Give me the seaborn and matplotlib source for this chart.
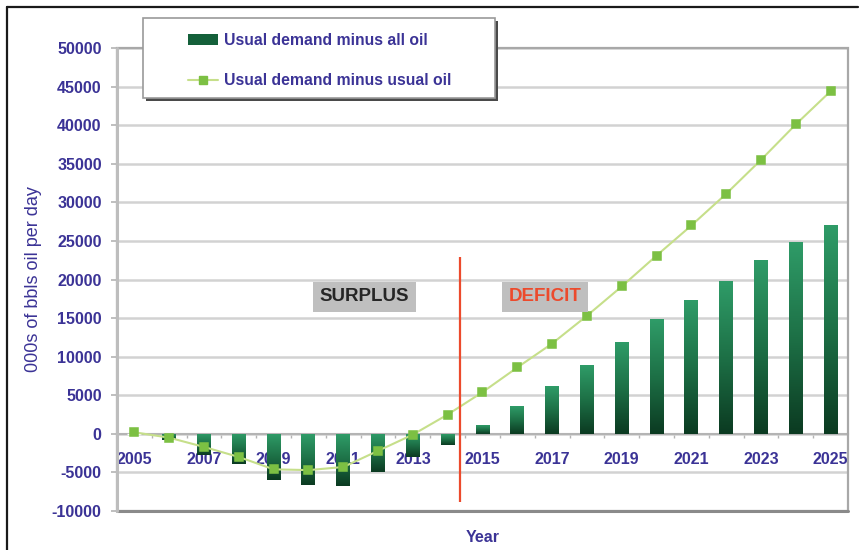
import numpy as np
import pandas as pd
import matplotlib
matplotlib.use("Agg")
import matplotlib.pyplot as plt
from matplotlib.colors import LinearSegmentedColormap
from matplotlib.patches import Rectangle
from matplotlib.lines import Line2D
import seaborn as sns

# --- data (thousands of barrels of oil per day) ---
years = [str(y) for y in range(2005, 2026)]
demand_minus_all_oil = [0, -800, -2800, -3900, -6000, -6600, -6700, -5000, -3000, -1400,
                        1100, 3600, 6200, 8900, 11900, 14900, 17300, 19800, 22500, 24900, 27100]
demand_minus_usual_oil = [200, -500, -1700, -3000, -4600, -4700, -4300, -2200, -100, 2500,
                          5400, 8600, 11700, 15300, 19100, 23100, 27000, 31100, 35500, 40100, 44400]
y_ticks = list(range(-10000, 50001, 5000))
series_labels = ["Usual demand minus all oil", "Usual demand minus usual oil"]
region_labels = ["SURPLUS", "DEFICIT"]
axis_labels = {"x": "Year", "y": "000s of bbls oil per day"}

df = pd.DataFrame({"year": years,
                   "all_oil": demand_minus_all_oil,
                   "usual_oil": demand_minus_usual_oil})

# --- styling ---
sns.set_theme(style="white")
plt.rcParams["font.family"] = ["Liberation Sans", "DejaVu Sans"]
TEXT_BLUE = "#3b3396"
GRID = "#d2d2d2"
BAR_TOP, BAR_BOTTOM = "#2f9c68", "#0b3a21"
LINE_GREEN, MARKER_GREEN = "#c6df8a", "#7cc043"

fig = plt.figure(figsize=(8.64, 5.5), dpi=100)
ax = fig.add_axes([117 / 864, 39 / 550, 731 / 864, 463 / 550])

sns.barplot(data=df, x="year", y="all_oil", color=BAR_TOP, width=0.4,
            ax=ax, zorder=3, saturation=1)
sns.pointplot(data=df, x="year", y="usual_oil", color=MARKER_GREEN, marker="s",
              markersize=5.5, linewidth=1.5, errorbar=None, ax=ax)

ax.set_ylim(y_ticks[0], y_ticks[-1])
ax.set_xlim(-0.5, len(years) - 0.5)

# vertical gradient inside each bar (light at the top, dark at the bottom)
cmap = LinearSegmentedColormap.from_list("bar", [BAR_TOP, "#1d7046", BAR_BOTTOM])
grad = np.linspace(0, 1, 256).reshape(-1, 1)
for p in list(ax.patches):
    x0, y0 = p.get_x(), p.get_y()
    w, h = p.get_width(), p.get_height()
    if h == 0:
        continue
    lo, hi = min(y0, y0 + h), max(y0, y0 + h)
    im = ax.imshow(grad, cmap=cmap, aspect="auto", origin="upper",
                   extent=(x0, x0 + w, lo, hi), zorder=3, interpolation="bicubic")
    im.set_clip_path(p)
    p.set_facecolor("none")
    p.set_edgecolor("none")

# line + markers of the second series
for ln in ax.lines:
    if len(ln.get_xdata()) == len(years):
        ln.set_color(LINE_GREEN)
        ln.set_markerfacecolor(MARKER_GREEN)
        ln.set_markeredgecolor(MARKER_GREEN)
        ln.set_zorder(4)

# grid and frame
ax.set_yticks(y_ticks)
ax.set_yticklabels([str(v) for v in y_ticks])
ax.yaxis.grid(True, color=GRID, linewidth=1.8, zorder=0)
ax.set_axisbelow(True)
for s in ["top", "right", "left"]:
    ax.spines[s].set_visible(False)
ax.spines["bottom"].set_position(("data", 0))
ax.spines["bottom"].set_color("#b4b4b4")
ax.spines["bottom"].set_linewidth(1.5)
ax.spines["bottom"].set_zorder(2)
ax.add_patch(Rectangle((0, 0), 1, 1, transform=ax.transAxes, fill=False,
                       edgecolor="#a8a8a8", linewidth=1.6, zorder=5, clip_on=False))
ax.plot([0, 1], [0, 0], transform=ax.transAxes, color="#8a8a8a", lw=2.2,
        clip_on=False, zorder=5)
ax.plot([0, 0], [0, 1], transform=ax.transAxes, color="#bdbdbd", lw=2.2,
        clip_on=False, zorder=5)

# ticks
ax.set_xticks(range(0, len(years), 2))
ax.set_xticklabels(years[::2])
ax.set_xticks(np.arange(0.5, len(years) - 1, 1), minor=True)
ax.tick_params(axis="x", which="major", length=0, pad=13,
               labelsize=11.5, labelcolor=TEXT_BLUE)
ax.tick_params(axis="x", which="minor", length=3, width=1, color="#b4b4b4",
               direction="out", bottom=True)
ax.tick_params(axis="y", length=4, width=1.2, color="#b4b4b4", left=True,
               direction="out", pad=7, labelsize=11.5, labelcolor=TEXT_BLUE)
for lbl in ax.get_xticklabels() + ax.get_yticklabels():
    lbl.set_fontweight("bold")
    lbl.set_zorder(6)

# axis titles
ax.set_xlabel(axis_labels["x"], fontsize=11.5, fontweight="bold", color=TEXT_BLUE)
ax.xaxis.set_label_coords(0.5, -0.040)
ax.set_ylabel(axis_labels["y"], fontsize=13, color=TEXT_BLUE)
ax.yaxis.set_label_coords(-0.102, 0.5)

# surplus / deficit divide
divide_x, divide_lo, divide_hi = 9.35, -8800, 22900
ax.vlines(divide_x, divide_lo, divide_hi, color="#ec4a2c", lw=1.6, zorder=4)
box = dict(boxstyle="square,pad=0.36", facecolor="#bfbfbf", edgecolor="none")
ax.text(6.6, 17740, region_labels[0], ha="center", va="center", fontsize=13.5,
        fontweight="bold", color="#262626", bbox=box, zorder=6)
ax.text(11.8, 17740, region_labels[1], ha="center", va="center", fontsize=13.5,
        fontweight="bold", color="#ec4a2c", bbox=box, zorder=6)

# legend in a framed box with a drop shadow
fx = lambda px: px / 864
fy = lambda py: 1 - py / 550
fig.add_artist(Rectangle((fx(146), fy(101)), fx(495) - fx(143), fy(18) - fy(98),
                         transform=fig.transFigure, facecolor="#4a4a4a",
                         edgecolor="none", zorder=7))
fig.add_artist(Rectangle((fx(143), fy(98)), fx(495) - fx(143), fy(18) - fy(98),
                         transform=fig.transFigure, facecolor="white",
                         edgecolor="#9a9a9a", linewidth=1.2, zorder=8))
handles = [Rectangle((0, 0), 1, 1, facecolor="#14603a", edgecolor="none"),
           Line2D([], [], color=LINE_GREEN, lw=1.5, marker="s", markersize=5.5,
                  markerfacecolor=MARKER_GREEN, markeredgecolor=MARKER_GREEN)]
leg = fig.legend(handles, series_labels, loc="upper left",
                 bbox_to_anchor=(fx(188), fy(33)), bbox_transform=fig.transFigure,
                 frameon=False, fontsize=11.3, labelspacing=1.6, handlelength=1.9,
                 handletextpad=0.4, borderpad=0, borderaxespad=0)
leg.set_zorder(9)
for t in leg.get_texts():
    t.set_color(TEXT_BLUE)
    t.set_fontweight("bold")

# outer chart border
fig.add_artist(Line2D([fx(7), fx(858)], [fy(7), fy(7)], color="#1a1a1a", lw=1.6,
                      transform=fig.transFigure))
fig.add_artist(Line2D([fx(7), fx(7)], [fy(7), 0], color="#1a1a1a", lw=1.6,
                      transform=fig.transFigure))

fig.savefig("out.png", dpi=100)
